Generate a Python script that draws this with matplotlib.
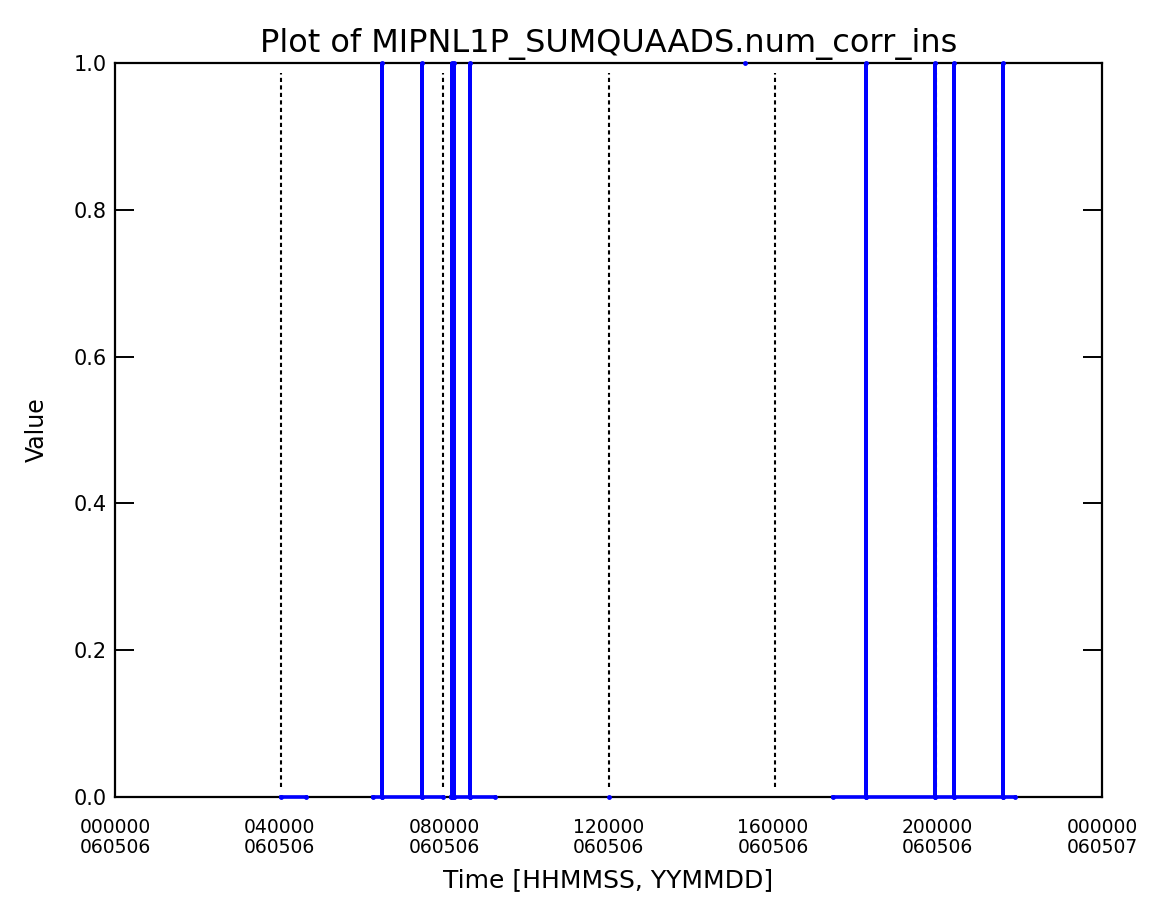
import matplotlib
matplotlib.use("Agg")
import matplotlib.pyplot as plt
import numpy as np

# time in hours since 000000 060506, value of num_corr_ins (nan = data gap)
time_h = [4.03, 4.64, np.nan,
          6.28, 6.50, 6.50, 6.50, 7.47, 7.47, 7.47, 7.97, np.nan,
          8.16, 8.19, 8.19, 8.19, 8.25, 8.25, 8.25, 8.63, 8.63, 8.63, 9.24, np.nan,
          12.01, np.nan,
          15.32, np.nan,
          17.47, 18.25, 18.25, 18.25, 19.94, 19.94, 19.94, 20.39, 20.39, 20.39,
          21.60, 21.60, 21.60, 21.88]
value = [0, 0, np.nan,
         0, 0, 1, 0, 0, 1, 0, 0, np.nan,
         0, 0, 1, 0, 0, 1, 0, 0, 1, 0, 0, np.nan,
         0, np.nan,
         1, np.nan,
         0, 0, 1, 0, 0, 1, 0, 0, 1, 0,
         0, 1, 0, 0]

# orbit start markers (dotted lines)
orbit_start_h = [4.03, 7.98, 12.01, 16.04, 19.96]

xtick_pos = [0, 4, 8, 12, 16, 20, 24]
xtick_labels = ["000000\n060506", "040000\n060506", "080000\n060506",
                "120000\n060506", "160000\n060506", "200000\n060506",
                "000000\n060507"]
ytick_pos = [0.0, 0.2, 0.4, 0.6, 0.8, 1.0]

plt.rcParams["font.family"] = ["DejaVu Sans"]

fig = plt.figure(figsize=(11.6, 9.22), dpi=100)
ax = fig.add_axes([0.0991, 0.1356, 0.8509, 0.7961])

ax.vlines(orbit_start_h, 0.013, 0.987, colors="black", linewidth=1.5,
          linestyles=(0, (2.0, 1.6)))
ax.plot(time_h, value, color="#0000ff", linewidth=2.6, marker="o",
        markersize=3.5, markeredgewidth=0, solid_joinstyle="miter",
        clip_on=False, zorder=3)

ax.set_xlim(0, 24)
ax.set_ylim(0, 1.0)
ax.set_xticks(xtick_pos)
ax.set_xticklabels(xtick_labels, fontsize=13.5, linespacing=1.05)
ax.set_yticks(ytick_pos)
ax.set_yticklabels([f"{v:.1f}" for v in ytick_pos], fontsize=15)
ax.tick_params(axis="x", length=0, pad=15)
ax.tick_params(axis="y", direction="in", length=14, width=1.4,
               left=True, right=True, pad=6)
for sp in ax.spines.values():
    sp.set_linewidth(1.6)

ax.set_title("Plot of MIPNL1P_SUMQUAADS.num_corr_ins", fontsize=23, pad=8)
ax.set_xlabel("Time [HHMMSS, YYMMDD]", fontsize=18, labelpad=8)
ax.set_ylabel("Value", fontsize=17, labelpad=18)

fig.savefig("out.png", dpi=100)
